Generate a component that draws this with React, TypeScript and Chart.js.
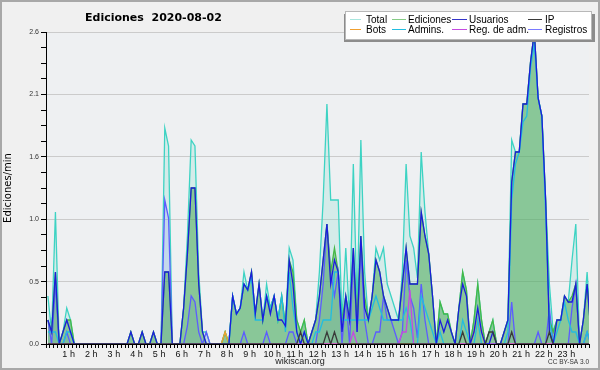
import React, { useEffect, useRef } from 'react';
import { Chart, registerables } from 'chart.js';
Chart.register(...registerables);

// 10-minute buckets (index 0 = 00:00-00:10), edits per minute
const total = [
  0.4, 0.1, 1.1, 0, 0.1, 0.3, 0.2, 0, 0, 0, 0, 0,
  0, 0, 0, 0, 0, 0, 0, 0, 0, 0, 0.1, 0,
  0, 0.1, 0, 0, 0.1, 0, 0, 1.8, 1.65, 0, 0, 0,
  0.3, 0.9, 1.7, 1.65, 0.6, 0.1, 0.1, 0, 0, 0, 0, 0.1,
  0, 0.4, 0.25, 0.3, 0.6, 0.45, 0.6, 0.25, 0.5, 0.2, 0.5, 0.3,
  0.4, 0.2, 0.4, 0.15, 0.8, 0.7, 0.2, 0.1, 0.2, 0, 0.1, 0.2,
  0.6, 1.2, 2.0, 1.2, 1.2, 1.2, 0.2, 0.8, 0.2, 1.5, 0.3, 1.7,
  0.6, 0.2, 0.4, 0.8, 0.7, 0.8, 0.5, 0.4, 0.3, 0.2, 0.6, 1.5,
  0.9, 0.8, 0.55, 1.6, 1.1, 0.75, 0.4, 0, 0.35, 0.25, 0.25, 0.1,
  0, 0.3, 0.6, 0.45, 0, 0.2, 0.5, 0.2, 0, 0.1, 0.2, 0,
  0, 0.1, 0.2, 1.7, 1.6, 1.6, 2.0, 2.0, 2.35, 2.6, 2.05, 1.9,
  1.2, 0.5, 0.1, 0.2, 0.2, 0.4, 0.35, 0.7, 1.0, 0, 0.2, 0.6,
  0.1,
];
const ediciones = [
  0.2, 0.1, 0.6, 0, 0.1, 0.2, 0.2, 0, 0, 0, 0, 0,
  0, 0, 0, 0, 0, 0, 0, 0, 0, 0, 0.1, 0,
  0, 0.1, 0, 0, 0.1, 0, 0, 0.6, 0.6, 0, 0, 0,
  0.3, 0.75, 1.3, 1.3, 0.5, 0.1, 0, 0, 0, 0, 0, 0.1,
  0, 0.4, 0.25, 0.3, 0.5, 0.45, 0.6, 0.25, 0.5, 0.2, 0.4, 0.3,
  0.4, 0.2, 0.4, 0.15, 0.7, 0.6, 0.2, 0.1, 0.2, 0, 0.1, 0.2,
  0.4, 0.7, 1.0, 0.6, 0.8, 0.6, 0.2, 0.4, 0.2, 0.8, 0.2, 0.9,
  0.4, 0.2, 0.4, 0.7, 0.6, 0.4, 0.3, 0.2, 0.2, 0.2, 0.5, 0.8,
  0.5, 0.5, 0.5, 1.1, 0.9, 0.75, 0.4, 0, 0.35, 0.25, 0.25, 0.1,
  0, 0.3, 0.6, 0.45, 0, 0.2, 0.5, 0.2, 0, 0.1, 0.2, 0,
  0, 0.1, 0.2, 1.35, 1.6, 1.6, 2.0, 2.0, 2.35, 2.6, 2.05, 1.9,
  1.2, 0.2, 0.1, 0.2, 0.2, 0.4, 0.35, 0.4, 0.5, 0, 0.2, 0.5,
  0.1,
];
const usuarios = [
  0.2, 0.1, 0.6, 0, 0.1, 0.2, 0.1, 0, 0, 0, 0, 0,
  0, 0, 0, 0, 0, 0, 0, 0, 0, 0, 0.1, 0,
  0, 0.1, 0, 0, 0.1, 0, 0, 0.6, 0.6, 0, 0, 0,
  0.3, 0.75, 1.3, 1.3, 0.5, 0.1, 0, 0, 0, 0, 0, 0,
  0, 0.4, 0.25, 0.3, 0.5, 0.45, 0.6, 0.25, 0.5, 0.2, 0.4, 0.25,
  0.4, 0.2, 0.2, 0.15, 0.7, 0.5, 0.1, 0, 0.1, 0, 0.1, 0.2,
  0.4, 0.7, 1.0, 0.5, 0.7, 0.6, 0.1, 0.4, 0.2, 0.8, 0.1, 0.9,
  0.3, 0.2, 0.4, 0.7, 0.6, 0.4, 0.3, 0.2, 0.2, 0.2, 0.5, 0.8,
  0.5, 0.5, 0.5, 1.1, 0.9, 0.75, 0.4, 0, 0.2, 0.1, 0.2, 0.1,
  0, 0.3, 0.5, 0.4, 0, 0.1, 0.3, 0.1, 0, 0, 0.1, 0,
  0, 0.1, 0.2, 1.35, 1.6, 1.6, 2.0, 2.0, 2.35, 2.6, 2.05, 1.9,
  1.2, 0.1, 0, 0.2, 0.2, 0.4, 0.35, 0.35, 0.5, 0, 0.2, 0.5,
  0.1,
];
const ip = [
  0, 0, 0, 0, 0, 0, 0, 0, 0, 0, 0, 0,
  0, 0, 0, 0, 0, 0, 0, 0, 0, 0, 0, 0,
  0, 0, 0, 0, 0, 0, 0, 0, 0, 0, 0, 0,
  0, 0, 0, 0, 0, 0, 0, 0, 0, 0, 0, 0,
  0, 0, 0, 0, 0, 0, 0, 0, 0, 0, 0, 0,
  0, 0, 0, 0, 0, 0, 0, 0.1, 0, 0, 0, 0,
  0, 0, 0.1, 0, 0.1, 0, 0, 0, 0, 0, 0, 0,
  0, 0, 0, 0, 0, 0, 0, 0, 0, 0, 0, 0,
  0, 0, 0, 0, 0, 0, 0, 0, 0, 0, 0, 0,
  0, 0, 0.1, 0, 0, 0, 0, 0, 0, 0.1, 0.1, 0,
  0, 0, 0, 0.1, 0, 0, 0, 0, 0, 0, 0, 0,
  0, 0.1, 0, 0, 0, 0, 0, 0, 0, 0, 0, 0,
  0,
];
const bots = [
  0, 0, 0, 0, 0, 0, 0, 0, 0, 0, 0, 0,
  0, 0, 0, 0, 0, 0, 0, 0, 0, 0, 0, 0,
  0, 0, 0, 0, 0, 0, 0, 0, 0, 0, 0, 0,
  0, 0, 0, 0, 0, 0, 0, 0, 0, 0, 0, 0.1,
  0, 0, 0, 0, 0, 0, 0, 0, 0, 0, 0, 0,
  0, 0, 0, 0, 0, 0, 0, 0, 0, 0, 0, 0,
  0, 0, 0, 0, 0, 0, 0, 0, 0, 0, 0, 0,
  0, 0, 0, 0, 0, 0, 0, 0, 0, 0, 0, 0,
  0, 0, 0, 0, 0, 0, 0, 0, 0, 0, 0, 0,
  0, 0, 0, 0, 0, 0.1, 0.2, 0.1, 0, 0, 0, 0,
  0, 0, 0, 0, 0, 0, 0, 0, 0, 0, 0, 0,
  0, 0, 0, 0, 0, 0, 0, 0, 0, 0, 0, 0,
  0,
];
const admins = [
  0.1, 0.1, 0.1, 0, 0, 0.1, 0.1, 0, 0, 0, 0, 0,
  0, 0, 0, 0, 0, 0, 0, 0, 0, 0, 0, 0,
  0, 0, 0, 0, 0, 0, 0, 0, 0, 0, 0, 0,
  0, 0, 0, 0, 0, 0, 0, 0, 0, 0, 0, 0,
  0, 0.4, 0.25, 0.3, 0.5, 0.45, 0.55, 0.2, 0.2, 0.2, 0.4, 0.3,
  0.4, 0.2, 0.4, 0.1, 0.6, 0.3, 0.1, 0, 0.1, 0, 0, 0.1,
  0.1, 0.2, 0.2, 0.2, 0.6, 0.6, 0.2, 0.2, 0.2, 0.2, 0.2, 0.2,
  0.2, 0.2, 0.3, 0.4, 0.3, 0.2, 0.2, 0.2, 0.2, 0.2, 0.2, 0.3,
  0.2, 0, 0, 0.4, 0.3, 0.2, 0.1, 0, 0.1, 0, 0, 0,
  0, 0, 0.2, 0.1, 0, 0, 0.2, 0, 0, 0, 0, 0,
  0, 0, 0.1, 1.2, 1.5, 1.6, 1.85, 1.9, 2.3, 2.5, 2.05, 1.9,
  1.1, 0.2, 0, 0.1, 0.2, 0.35, 0.2, 0.1, 0.1, 0, 0, 0.1,
  0,
];
const regAdm = [
  0, 0, 0, 0, 0, 0, 0, 0, 0, 0, 0, 0,
  0, 0, 0, 0, 0, 0, 0, 0, 0, 0, 0, 0,
  0, 0, 0, 0, 0, 0, 0, 0, 0, 0, 0, 0,
  0, 0, 0, 0, 0, 0, 0, 0, 0, 0, 0, 0,
  0, 0, 0, 0, 0, 0, 0, 0, 0, 0, 0, 0,
  0, 0, 0, 0, 0, 0, 0, 0, 0, 0, 0, 0,
  0, 0, 0, 0, 0, 0, 0, 0, 0, 0.1, 0, 0,
  0, 0, 0, 0, 0, 0, 0, 0, 0, 0, 0.1, 0.1,
  0.45, 0, 0, 0, 0, 0, 0, 0, 0, 0, 0, 0,
  0, 0, 0, 0, 0, 0, 0, 0, 0, 0, 0, 0,
  0, 0, 0, 0, 0, 0, 0, 0, 0, 0, 0, 0,
  0, 0, 0, 0, 0, 0, 0, 0, 0, 0, 0, 0,
  0,
];
const registros = [
  0.2, 0, 0.5, 0, 0, 0.1, 0, 0, 0, 0, 0, 0,
  0, 0, 0, 0, 0, 0, 0, 0, 0, 0, 0, 0,
  0, 0, 0, 0, 0, 0, 0, 1.2, 1.05, 0, 0, 0,
  0, 0.15, 0.4, 0.35, 0.1, 0, 0.1, 0, 0, 0, 0, 0,
  0, 0, 0, 0, 0.1, 0, 0, 0, 0, 0, 0.1, 0,
  0, 0, 0, 0, 0.1, 0.1, 0, 0, 0, 0, 0, 0,
  0.2, 0.5, 1.0, 0.6, 0.4, 0.6, 0, 0.4, 0, 0.7, 0.1, 0.8,
  0.2, 0, 0, 0.1, 0.1, 0.4, 0.2, 0.2, 0.1, 0, 0.1, 0.7,
  0.4, 0.3, 0.05, 0.5, 0.2, 0, 0, 0, 0, 0, 0, 0,
  0, 0, 0, 0, 0, 0, 0, 0, 0, 0, 0, 0,
  0, 0, 0, 0.35, 0, 0, 0, 0, 0, 0, 0.1, 0,
  0, 0.3, 0, 0, 0, 0, 0, 0.3, 0.5, 0, 0, 0.1,
  0,
];

const titleText = 'Ediciones  2020-08-02';
const yTitle = 'Ediciones/min';
const hourSuffix = ' h';
const footerLeft = 'wikiscan.org';
const footerRight = 'CC BY-SA 3.0';

const Y_MAX = 2.6;
const Y_STEP = 0.13; // minor tick; labels every 4th

const decor = {
  id: 'decor',
  beforeDraw(chart: any) {
    const { ctx, chartArea: a, width, height } = chart;
    ctx.save();
    ctx.fillStyle = '#f0f0f0';
    ctx.fillRect(0, 0, width, height);
    ctx.fillStyle = '#eef0f2';
    ctx.fillRect(a.left, a.top, a.right - a.left, a.bottom - a.top);
    ctx.restore();
  },
  afterDraw(chart: any) {
    const { ctx, width, height } = chart;
    ctx.save();
    // title
    ctx.fillStyle = '#000';
    ctx.textAlign = 'left';
    ctx.textBaseline = 'alphabetic';
    ctx.font = 'bold 11px "DejaVu Sans"';
    ctx.fillText(titleText, 85, 20.5);

    // legend box with shadow
    ctx.fillStyle = '#8c8c8c';
    ctx.fillRect(344, 14, 251, 28);
    ctx.fillStyle = '#ffffff';
    ctx.fillRect(345.5, 11.5, 246, 28);
    ctx.strokeStyle = '#b8b8b8';
    ctx.lineWidth = 1;
    ctx.strokeRect(345.5, 11.5, 246, 28);
    const cols = [
      { lx: 350, lw: 11, tx: 366 },
      { lx: 392, lw: 14, tx: 408 },
      { lx: 452, lw: 15, tx: 469 },
      { lx: 528, lw: 14, tx: 545 },
    ];
    ctx.font = '10px "Liberation Sans"';
    ctx.textBaseline = 'middle';
    chart.data.datasets.forEach((d: any, i: number) => {
      const c = cols[i % 4];
      const y = i < 4 ? 19.5 : 29.5;
      ctx.strokeStyle = d.legendColor || d.borderColor;
      ctx.lineWidth = 1;
      ctx.beginPath();
      ctx.moveTo(c.lx, y);
      ctx.lineTo(c.lx + c.lw, y);
      ctx.stroke();
      ctx.fillStyle = '#000';
      ctx.fillText(d.label, c.tx, y + 0.5);
    });

    // footer
    ctx.textBaseline = 'alphabetic';
    ctx.textAlign = 'center';
    ctx.fillStyle = '#222';
    ctx.font = '9px "Liberation Sans"';
    ctx.fillText(footerLeft, 300, 363.5);
    ctx.textAlign = 'right';
    ctx.fillStyle = '#333';
    ctx.font = '6.5px "Liberation Sans"';
    ctx.fillText(footerRight, 589, 363.5);

    // frame
    ctx.strokeStyle = '#a8a8a8';
    ctx.lineWidth = 2;
    ctx.strokeRect(1, 1, width - 2, height - 2);
    ctx.restore();
  },
};

export default function App() {
  const ref = useRef<HTMLCanvasElement>(null);
  useEffect(() => {
    document.body.style.margin = '0';
    const canvas = ref.current as HTMLCanvasElement;
    const pts = (arr: number[]) => arr.map((v, i) => ({ x: i + 0.5, y: v }));
    const isMajor = (v: number) => Math.round(v / Y_STEP) % 4 === 0;
    const chart = new Chart(canvas, {
      type: 'line',
      data: {
        datasets: [
          { label: 'Total', data: pts(total), borderColor: '#3dd3c3', legendColor: '#a8e6de', backgroundColor: 'rgba(110,215,200,0.2)', fill: 'origin', order: 8 } as any,
          { label: 'Ediciones', data: pts(ediciones), borderColor: '#45b845', legendColor: '#86cc86', backgroundColor: 'rgba(75,170,85,0.55)', fill: 'origin', order: 6 },
          { label: 'Usuarios', data: pts(usuarios), borderColor: '#1c1cdc', legendColor: '#3434c8', fill: false, order: 2 },
          { label: 'IP', data: pts(ip), borderColor: '#3a3a3a', fill: false, order: 1 },
          { label: 'Bots', data: pts(bots), borderColor: '#f0a030', fill: false, order: 5 },
          { label: 'Admins.', data: pts(admins), borderColor: '#22bde0', fill: false, order: 4 },
          { label: 'Reg. de adm.', data: pts(regAdm), borderColor: '#c44ae0', fill: false, order: 3 },
          { label: 'Registros', data: pts(registros), borderColor: '#5c5cff', legendColor: '#7a7aff', backgroundColor: 'rgba(90,90,255,0.13)', fill: 'origin', order: 7 },
        ],
      },
      options: {
        responsive: false,
        animation: false,
        devicePixelRatio: 1,
        layout: { padding: { top: 32, right: 11, left: 0, bottom: 0 } },
        elements: { line: { borderWidth: 1.3, tension: 0 }, point: { radius: 0 } },
        plugins: {
          legend: { display: false },
          title: { display: false },
          tooltip: { enabled: false },
          filler: { drawTime: 'beforeDatasetsDraw' },
        } as any,
        scales: {
          x: {
            type: 'linear',
            min: 0,
            max: 144,
            afterFit: (s: any) => { s.height = 26; },
            ticks: {
              stepSize: 1,
              autoSkip: false,
              maxRotation: 0,
              minRotation: 0,
              padding: 1,
              color: '#111',
              font: { family: 'Liberation Sans', size: 9 },
              callback: (v: any) => {
                const n = Number(v);
                return n % 6 === 0 && n > 0 && n < 144 ? `${n / 6}${hourSuffix}` : '';
              },
            },
            grid: { drawOnChartArea: false, drawTicks: true, tickLength: 4, tickColor: '#000', color: '#000' },
            border: { display: true, color: '#000', width: 1 },
          },
          y: {
            min: 0,
            max: Y_MAX,
            afterFit: (s: any) => { s.width = 46; },
            ticks: {
              stepSize: Y_STEP,
              autoSkip: false,
              padding: 2,
              color: '#333',
              font: { family: 'Liberation Sans', size: 7 },
              callback: (v: any) => (isMajor(Number(v)) ? Number(v).toFixed(1) : ''),
            },
            grid: {
              drawOnChartArea: true,
              tickLength: 5,
              tickColor: '#000',
              color: (ctx: any) => (ctx.tick && ctx.tick.value > 0 && isMajor(ctx.tick.value) ? '#cbcbcb' : 'rgba(0,0,0,0)'),
            },
            border: { display: true, color: '#000', width: 1 },
            title: {
              display: true,
              text: yTitle,
              color: '#000',
              font: { family: 'DejaVu Sans', size: 10 },
              padding: { top: 2, bottom: 0 },
            },
          },
        },
      },
      plugins: [decor],
    } as any);
    return () => chart.destroy();
  }, []);
  return (
    <div style={{ position: 'absolute', left: 0, top: 0, width: 600, height: 370 }}>
      <canvas ref={ref} width={600} height={370} style={{ width: 600, height: 370, display: 'block' }} />
    </div>
  );
}
